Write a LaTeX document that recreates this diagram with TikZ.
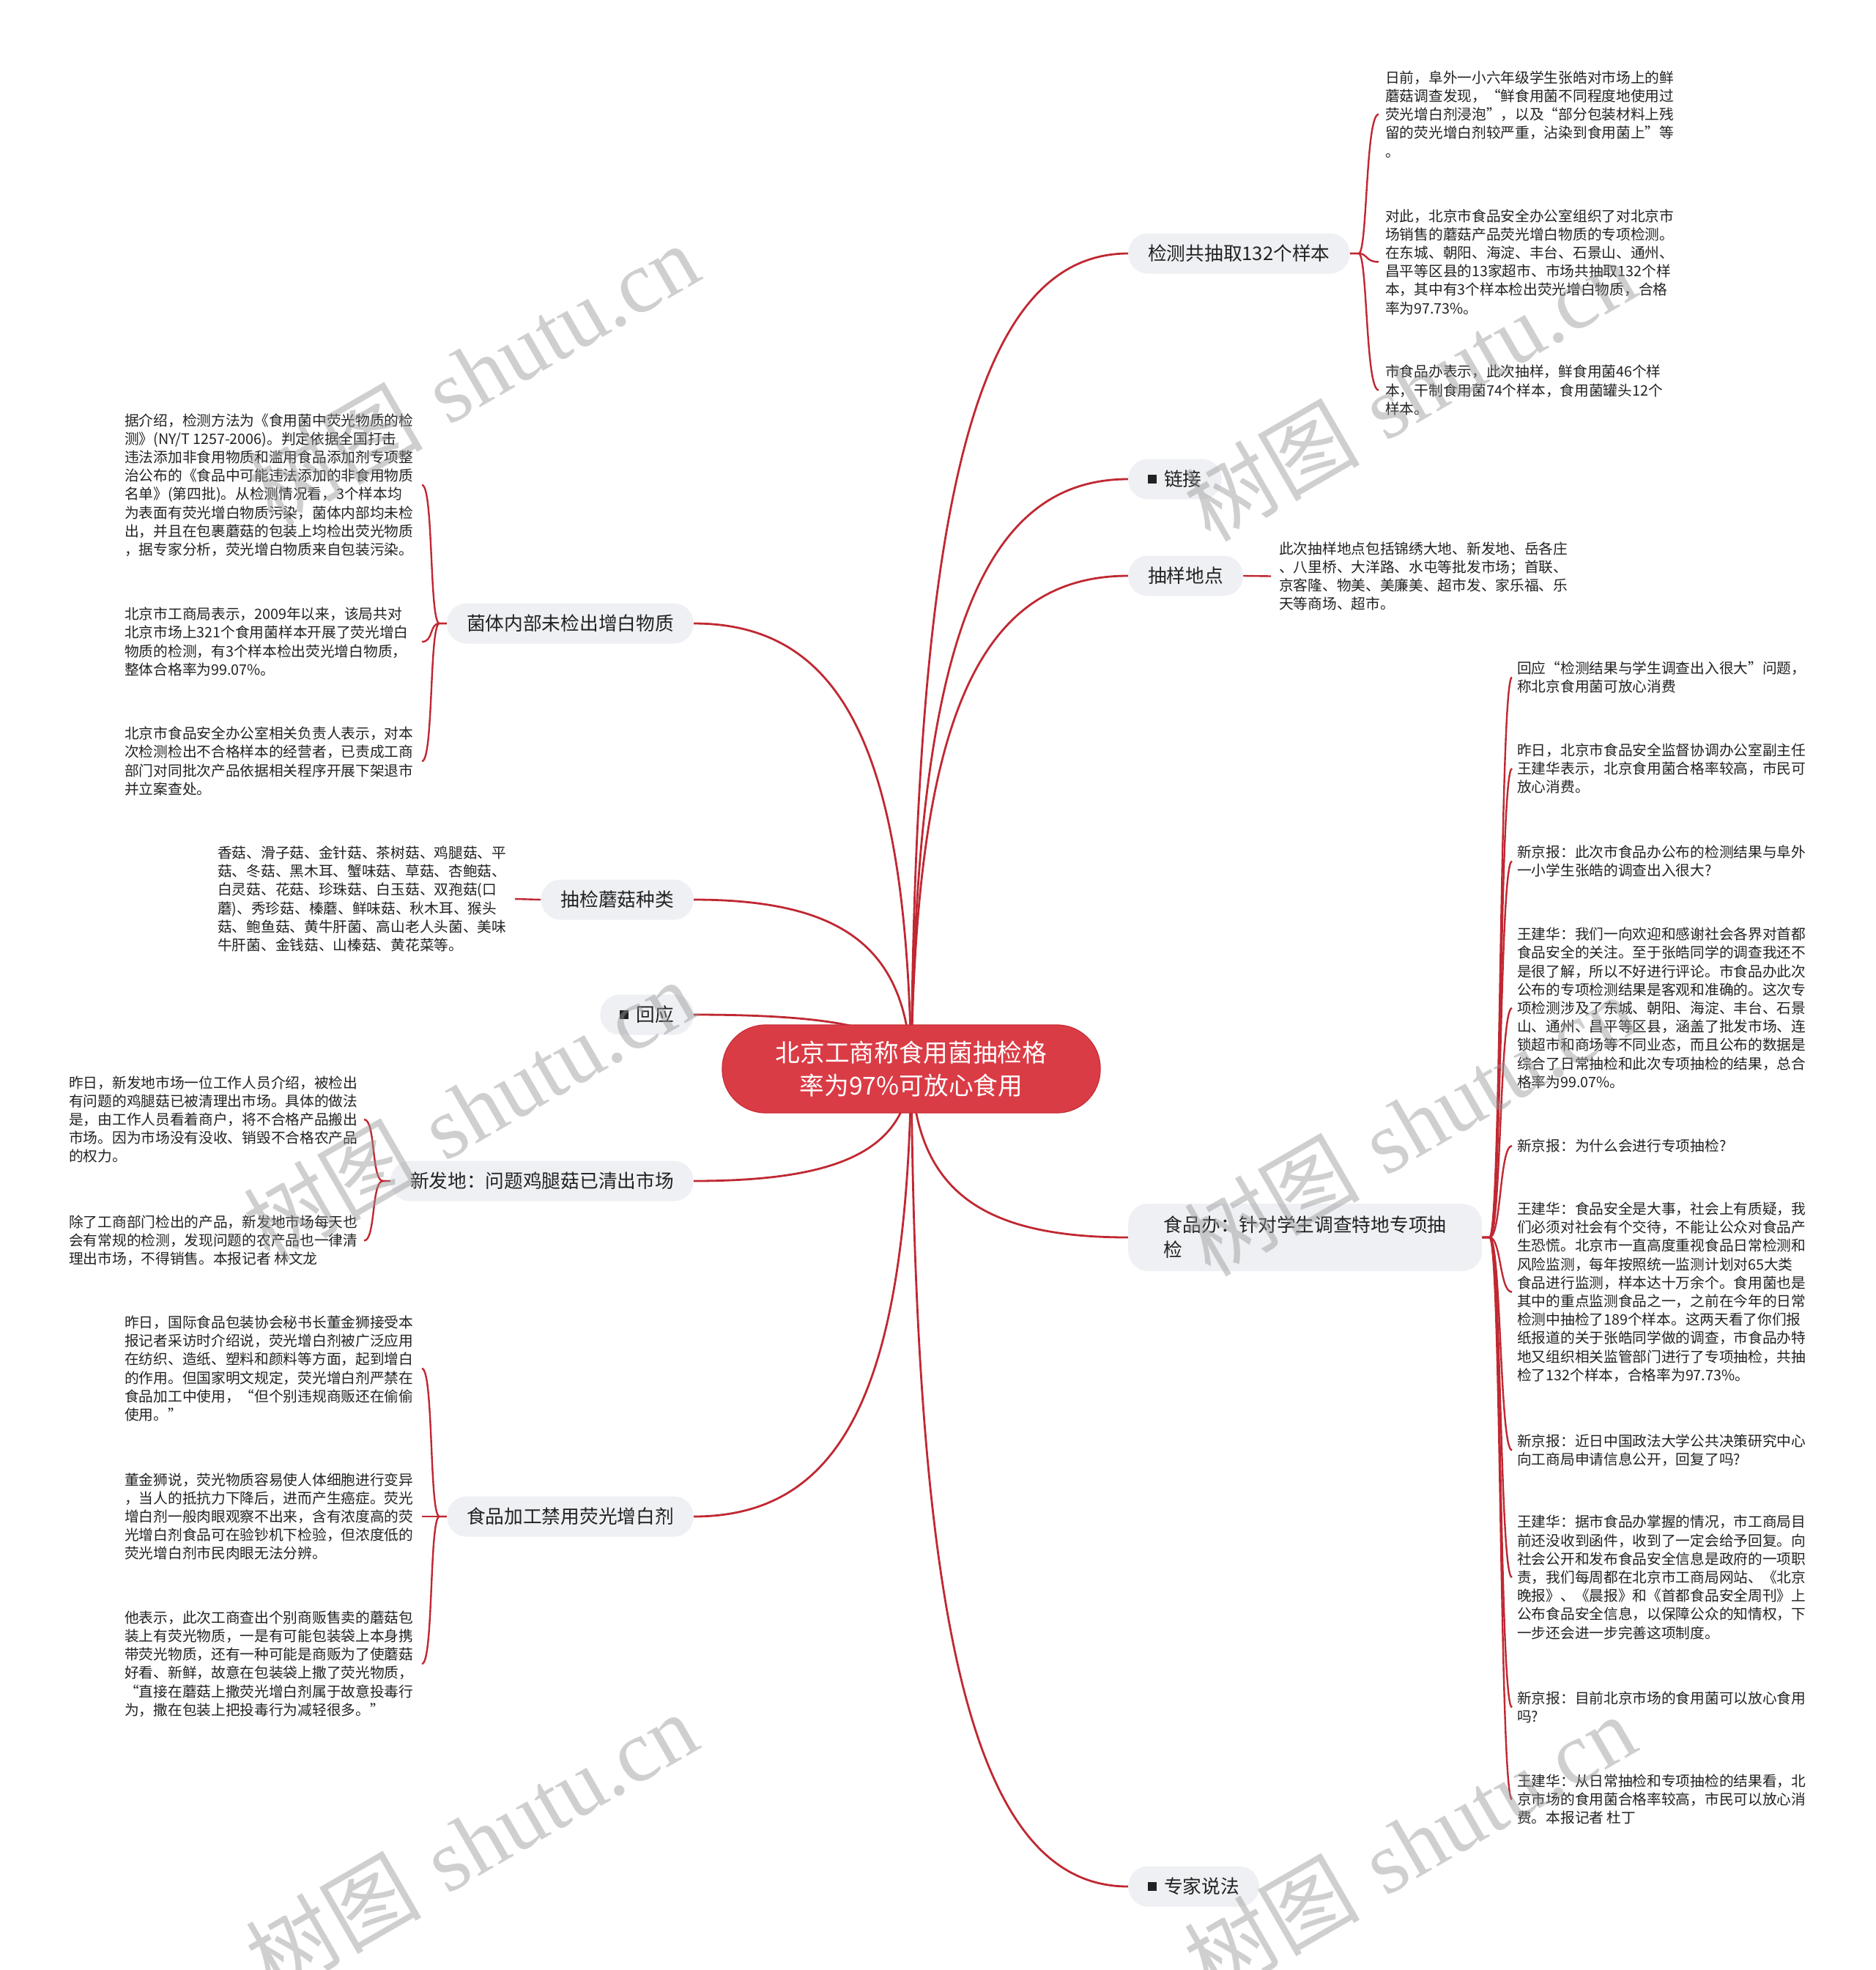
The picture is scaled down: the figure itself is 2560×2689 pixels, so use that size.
\documentclass[tikz,border=0pt]{standalone}
\usepackage{fontspec}
\usetikzlibrary{calc,backgrounds}
\newfontfamily\cjk{Noto Sans CJK SC}
\newfontfamily\wmlat{Liberation Serif}
\definecolor{linecol}{RGB}{192,40,50}
\definecolor{rootfill}{RGB}{218,60,70}
\definecolor{rootdraw}{RGB}{200,45,55}
\definecolor{brfill}{RGB}{238,240,243}
\definecolor{txt}{RGB}{34,34,34}
\definecolor{wmcol}{RGB}{150,150,150}
\newcommand\sqmark{\textcolor{txt}{\rule[4pt]{12pt}{12pt}}\hspace{10pt}}
\begin{document}
\begin{tikzpicture}[x=1pt,y=-1pt,
  conn/.style={draw=linecol,line width=2.8pt},
  brk/.style={draw=linecol,line width=2.4pt},
  branch/.style={fill=brfill,rounded corners=27pt,minimum height=55pt,inner xsep=27pt,inner ysep=0pt,text=txt,font=\cjk\fontsize{25.7}{34}\selectfont},
  leaf/.style={inner sep=0pt,align=left,text=txt,font=\cjk\fontsize{19.7}{25.2}\selectfont},
  wm/.style={rotate=30,text=wmcol,text opacity=0.45,inner sep=0pt,font=\fontsize{120}{120}\selectfont}]

\useasboundingbox (0,0) rectangle (2560,2689);

% root
\node[fill=rootfill,draw=rootdraw,line width=1.2pt,rounded corners=59pt,minimum width=516pt,minimum height=120pt,text=white,align=center,font=\cjk\fontsize{33.7}{44.6}\selectfont] (root) at (1244,1459) {北京工商称食用菌抽检格\\率为97\%可放心食用};

% right branches
\node[branch,anchor=west] (b1) at (1540,346) {检测共抽取132个样本};
\node[branch,anchor=west] (b2) at (1540,654) {\sqmark 链接};
\node[branch,anchor=west] (b3) at (1540,786) {抽样地点};
\node[branch,anchor=west,minimum height=92pt,minimum width=483pt,align=left,inner xsep=46pt] (b4) at (1540,1689) {食品办：针对学生调查特地专项抽\\检};
\node[branch,anchor=west] (b5) at (1540,2575) {\sqmark 专家说法};
% left branches
\node[branch,anchor=east] (b6) at (947,851) {菌体内部未检出增白物质};
\node[branch,anchor=east] (b7) at (947,1228) {抽检蘑菇种类};
\node[branch,anchor=east] (b8) at (947,1385) {\sqmark 回应};
\node[branch,anchor=east] (b9) at (947,1612) {新发地：问题鸡腿菇已清出市场};
\node[branch,anchor=east] (b10) at (947,2070) {食品加工禁用荧光增白剂};

% leaves of b1
\node[leaf,anchor=west] (r1) at (1891,156) {日前，阜外一小六年级学生张皓对市场上的鲜\\蘑菇调查发现，“鲜食用菌不同程度地使用过\\荧光增白剂浸泡”，以及“部分包装材料上残\\留的荧光增白剂较严重，沾染到食用菌上”等\\。};
\node[leaf,anchor=west] (r2) at (1891,357.5) {对此，北京市食品安全办公室组织了对北京市\\场销售的蘑菇产品荧光增白物质的专项检测。\\在东城、朝阳、海淀、丰台、石景山、通州、\\昌平等区县的13家超市、市场共抽取132个样\\本，其中有3个样本检出荧光增白物质，合格\\率为97.73\%。};
\node[leaf,anchor=west] (r3) at (1891,532.5) {市食品办表示，此次抽样，鲜食用菌46个样\\本，干制食用菌74个样本，食用菌罐头12个\\样本。};
% leaf of b3
\node[leaf,anchor=west] (s1) at (1746,786.5) {此次抽样地点包括锦绣大地、新发地、岳各庄\\、八里桥、大洋路、水屯等批发市场；首联、\\京客隆、物美、美廉美、超市发、家乐福、乐\\天等商场、超市。};
% leaves of b4
\node[leaf,anchor=west] (f1) at (2071,924.5) {回应“检测结果与学生调查出入很大”问题，\\称北京食用菌可放心消费};
\node[leaf,anchor=west] (f2) at (2071,1049) {昨日，北京市食品安全监督协调办公室副主任\\王建华表示，北京食用菌合格率较高，市民可\\放心消费。};
\node[leaf,anchor=west] (f3) at (2071,1175.5) {新京报：此次市食品办公布的检测结果与阜外\\一小学生张皓的调查出入很大?};
\node[leaf,anchor=west] (f4) at (2071,1376) {王建华：我们一向欢迎和感谢社会各界对首都\\食品安全的关注。至于张皓同学的调查我还不\\是很了解，所以不好进行评论。市食品办此次\\公布的专项检测结果是客观和准确的。这次专\\项检测涉及了东城、朝阳、海淀、丰台、石景\\山、通州、昌平等区县，涵盖了批发市场、连\\锁超市和商场等不同业态，而且公布的数据是\\综合了日常抽检和此次专项抽检的结果，总合\\格率为99.07\%。};
\node[leaf,anchor=west] (f5) at (2071,1564) {新京报：为什么会进行专项抽检?};
\node[leaf,anchor=west] (f6) at (2071,1763.5) {王建华：食品安全是大事，社会上有质疑，我\\们必须对社会有个交待，不能让公众对食品产\\生恐慌。北京市一直高度重视食品日常检测和\\风险监测，每年按照统一监测计划对65大类\\食品进行监测，样本达十万余个。食用菌也是\\其中的重点监测食品之一，之前在今年的日常\\检测中抽检了189个样本。这两天看了你们报\\纸报道的关于张皓同学做的调查，市食品办特\\地又组织相关监管部门进行了专项抽检，共抽\\检了132个样本，合格率为97.73\%。};
\node[leaf,anchor=west] (f7) at (2071,1979.5) {新京报：近日中国政法大学公共决策研究中心\\向工商局申请信息公开，回复了吗?};
\node[leaf,anchor=west] (f8) at (2071,2153) {王建华：据市食品办掌握的情况，市工商局目\\前还没收到函件，收到了一定会给予回复。向\\社会公开和发布食品安全信息是政府的一项职\\责，我们每周都在北京市工商局网站、《北京\\晚报》、《晨报》和《首都食品安全周刊》上\\公布食品安全信息，以保障公众的知情权，下\\一步还会进一步完善这项制度。};
\node[leaf,anchor=west] (f9) at (2071,2330.5) {新京报：目前北京市场的食用菌可以放心食用\\吗?};
\node[leaf,anchor=west] (f10) at (2071,2456) {王建华：从日常抽检和专项抽检的结果看，北\\京市场的食用菌合格率较高，市民可以放心消\\费。本报记者 杜丁};
% leaves of b6
\node[leaf,anchor=west] (l1) at (170,662) {据介绍，检测方法为《食用菌中荧光物质的检\\测》(NY/T 1257-2006)。判定依据全国打击\\违法添加非食用物质和滥用食品添加剂专项整\\治公布的《食品中可能违法添加的非食用物质\\名单》(第四批)。从检测情况看，3个样本均\\为表面有荧光增白物质污染，菌体内部均未检\\出，并且在包裹蘑菇的包装上均检出荧光物质\\，据专家分析，荧光增白物质来自包装污染。};
\node[leaf,anchor=west] (l2) at (170,876) {北京市工商局表示，2009年以来，该局共对\\北京市场上321个食用菌样本开展了荧光增白\\物质的检测，有3个样本检出荧光增白物质，\\整体合格率为99.07\%。};
\node[leaf,anchor=west] (l3) at (170,1039) {北京市食品安全办公室相关负责人表示，对本\\次检测检出不合格样本的经营者，已责成工商\\部门对同批次产品依据相关程序开展下架退市\\并立案查处。};
% leaf of b7
\node[leaf,anchor=west] (m1) at (297,1227) {香菇、滑子菇、金针菇、茶树菇、鸡腿菇、平\\菇、冬菇、黑木耳、蟹味菇、草菇、杏鲍菇、\\白灵菇、花菇、珍珠菇、白玉菇、双孢菇(口\\蘑)、秀珍菇、榛蘑、鲜味菇、秋木耳、猴头\\菇、鲍鱼菇、黄牛肝菌、高山老人头菌、美味\\牛肝菌、金钱菇、山榛菇、黄花菜等。};
% leaves of b9
\node[leaf,anchor=west] (n1) at (94,1528) {昨日，新发地市场一位工作人员介绍，被检出\\有问题的鸡腿菇已被清理出市场。具体的做法\\是，由工作人员看着商户，将不合格产品搬出\\市场。因为市场没有没收、销毁不合格农产品\\的权力。};
\node[leaf,anchor=west] (n2) at (94,1693.4) {除了工商部门检出的产品，新发地市场每天也\\会有常规的检测，发现问题的农产品也一律清\\理出市场，不得销售。本报记者 林文龙};
% leaves of b10
\node[leaf,anchor=west] (p1) at (170,1868) {昨日，国际食品包装协会秘书长董金狮接受本\\报记者采访时介绍说，荧光增白剂被广泛应用\\在纺织、造纸、塑料和颜料等方面，起到增白\\的作用。但国家明文规定，荧光增白剂严禁在\\食品加工中使用，“但个别违规商贩还在偷偷\\使用。”};
\node[leaf,anchor=west] (p2) at (170,2070) {董金狮说，荧光物质容易使人体细胞进行变异\\，当人的抵抗力下降后，进而产生癌症。荧光\\增白剂一般肉眼观察不出来，含有浓度高的荧\\光增白剂食品可在验钞机下检验，但浓度低的\\荧光增白剂市民肉眼无法分辨。};
\node[leaf,anchor=west] (p3) at (170,2271) {他表示，此次工商查出个别商贩售卖的蘑菇包\\装上有荧光物质，一是有可能包装袋上本身携\\带荧光物质，还有一种可能是商贩为了使蘑菇\\好看、新鲜，故意在包装袋上撒了荧光物质，\\“直接在蘑菇上撒荧光增白剂属于故意投毒行\\为，撒在包装上把投毒行为减轻很多。”};

\begin{scope}[on background layer]
\fill[white] (0,0) rectangle (2560,2689);
% main connectors
\draw[conn] (root.center) .. controls (1250,680) and (1333,346) .. (b1.west);
\draw[conn] (root.center) .. controls (1250,896) and (1333,654) .. (b2.west);
\draw[conn] (root.center) .. controls (1250,988) and (1333,786) .. (b3.west);
\draw[conn] (root.center) .. controls (1250,1620) and (1333,1689) .. (b4.west);
\draw[conn] (root.center) .. controls (1250,2240) and (1333,2575) .. (b5.west);
\draw[conn] (root.center) .. controls (1238,1033) and (1155,851) .. (b6.east);
\draw[conn] (root.center) .. controls (1238,1297) and (1155,1228) .. (b7.east);
\draw[conn] (root.center) .. controls (1238,1407) and (1155,1385) .. (b8.east);
\draw[conn] (root.center) .. controls (1238,1566) and (1155,1612) .. (b9.east);
\draw[conn] (root.center) .. controls (1238,1887) and (1155,2070) .. (b10.east);
% brackets b1
\foreach \c in {r1,r2,r3}{
  \draw[brk] (b1.east) -- ++(12,0) .. controls +(12,0) and +(-18,0) .. ($(\c.west)+(-9,0)$);
}
\draw[brk] (b3.east) -- ($(s1.west)+(-11,0)$);
\foreach \c in {f1,f2,f3,f4,f5,f6,f7,f8,f9,f10}{
  \draw[brk] (b4.east) -- ++(10,0) .. controls +(16,0) and +(-17,0) .. ($(\c.west)+(-7,0)$);
}
\foreach \c in {l1,l2,l3}{
  \draw[brk] (b6.west) -- ++(-10,0) .. controls +(-14,0) and +(16,0) .. ($(\c.west)+(406,0)$);
}
\draw[brk] (b7.west) -- ($(m1.west)+(406,0)$);
\foreach \c in {n1,n2}{
  \draw[brk] (b9.west) -- ++(-10,0) .. controls +(-16,0) and +(16,0) .. ($(\c.west)+(403,0)$);
}
\foreach \c in {p1,p2,p3}{
  \draw[brk] (b10.west) -- ++(-10,0) .. controls +(-14,0) and +(16,0) .. ($(\c.west)+(406,0)$);
}
\end{scope}

% watermarks
\node[wm] (w1) at (645,510) {{\cjk 树图} {\wmlat shutu.cn}};
\node[wm] (w2) at (1924,532) {{\cjk 树图} {\wmlat shutu.cn}};
\node[wm] (w3) at (640,1515) {{\cjk 树图} {\wmlat shutu.cn}};
\node[wm] (w4) at (1924,1535) {{\cjk 树图} {\wmlat shutu.cn}};
\node[wm] (w5) at (643,2515) {{\cjk 树图} {\wmlat shutu.cn}};
\node[wm] (w6) at (1924,2518) {{\cjk 树图} {\wmlat shutu.cn}};
\end{tikzpicture}
\end{document}
